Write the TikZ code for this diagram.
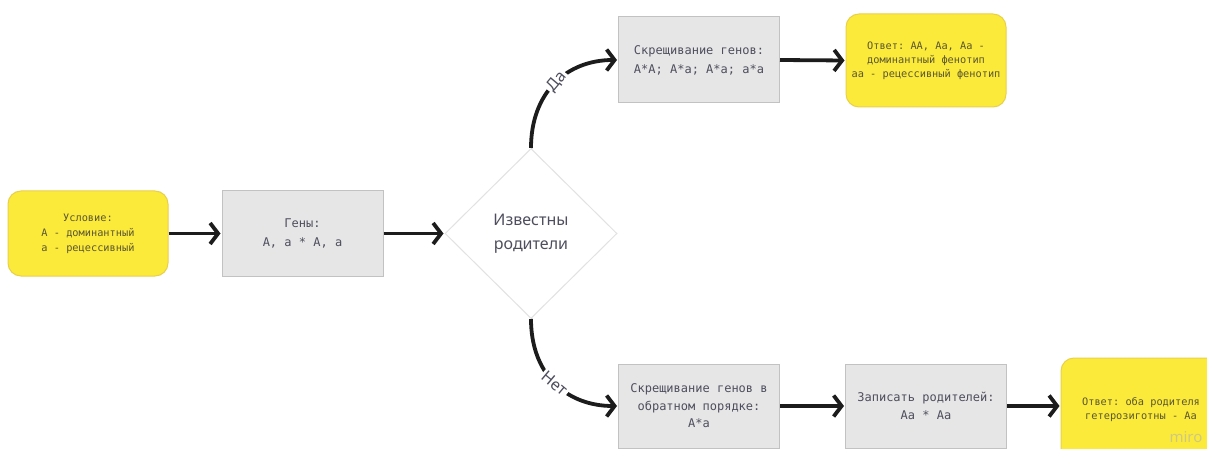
\documentclass[tikz,border=0pt]{standalone}
\usepackage{fontspec}
\setmainfont{Noto Sans}
\setmonofont{DejaVu Sans Mono}
\usetikzlibrary{arrows.meta,shapes.geometric}
\definecolor{yel}{HTML}{FCEA3A}
\definecolor{yelb}{HTML}{E9D04A}
\definecolor{grayf}{HTML}{E6E6E6}
\definecolor{grayb}{HTML}{C2C2C2}
\definecolor{graytxt}{HTML}{4E4E5E}
\definecolor{yeltxt}{HTML}{5A5630}
\definecolor{arrc}{HTML}{1C1C1C}
\definecolor{diab}{HTML}{E2E2E2}
\tikzset{
  yelbox/.style={draw=yelb, fill=yel, line width=1pt, rounded corners=13pt,
    minimum width=160pt, minimum height=85pt, align=center, inner sep=0pt,
    text=yeltxt, font=\ttfamily\fontsize{10.3}{15}\selectfont},
  graybox/.style={draw=grayb, fill=grayf, line width=1pt,
    minimum width=161pt, minimum height=85pt, align=center, inner sep=0pt,
    text=graytxt, font=\ttfamily\fontsize{12}{19}\selectfont},
  decision/.style={diamond, draw=diab, fill=white, line width=1pt, aspect=1,
    minimum width=172pt, minimum height=170pt, inner sep=0pt, align=center,
    text=graytxt, font=\fontsize{16}{24}\selectfont},
  arr/.style={draw=arrc, line width=3.8pt,
    -{Straight Barb[length=8pt,width=21pt]}, shorten >=1pt},
  lbl/.style={fill=white, inner sep=2pt, text=graytxt,
    font=\fontsize{16}{16}\selectfont}
}
\begin{document}
\begin{tikzpicture}[x=1pt,y=-1pt]
\useasboundingbox (0,0) rectangle (1207,449);
\clip (0,0) rectangle (1207,449);
\fill[white] (0,0) rectangle (1207,449);

\node[yelbox] (cond) at (88,233.5) {Условие:\\А - доминантный\\а - рецессивный};
\node[graybox] (genes) at (302.5,233.5) {Гены:\\А, а * А, а};
\node[decision] (dia) at (531,233.5) {Известны\\родители};

\node[graybox, minimum height=86pt] (tg) at (699,60) {Скрещивание генов:\\А*А; А*а; А*а; а*а};
\node[yelbox, minimum height=93pt, font=\ttfamily\fontsize{10.3}{14}\selectfont] (ty) at (926,60.5)
  {Ответ: АА, Аа, Аа -\\доминантный фенотип\\аа - рецессивный фенотип};

\node[graybox, minimum height=84pt, font=\ttfamily\fontsize{12}{17.5}\selectfont] (bg1) at (699,406)
  {Скрещивание генов в\\обратном порядке:\\А*а};
\node[graybox, minimum height=84pt, font=\ttfamily\fontsize{12}{18}\selectfont] (bg2) at (926,406)
  {Записать родителей:\\Аа * Аа};
\node[yelbox, minimum height=104pt, font=\ttfamily\fontsize{10.3}{14}\selectfont] (by) at (1141,410)
  {\raisebox{3pt}{\parbox{160pt}{\centering Ответ: оба родителя\\гетерозиготны - Аа}}};

\node[text=black!30, opacity=0.6, font=\fontsize{15}{15}\selectfont] (miro) at (1186,437) {miro};

\draw[arr] (cond.east) -- (genes.west);
\draw[arr] (genes.east) -- (dia.west);
\draw[arr] (dia.north) .. controls +(0,-55) and +(-52,0) ..
  node[lbl, pos=0.52, rotate=50] {Да} (tg.west);
\draw[arr] (dia.south) .. controls +(0,55) and +(-52,0) ..
  node[lbl, pos=0.5, rotate=-40] {Нет} (bg1.west);
\draw[arr] (tg.east) -- (ty.west);
\draw[arr] (bg1.east) -- (bg2.west);
\draw[arr] (bg2.east) -- (by.west |- bg2.east);
\end{tikzpicture}
\end{document}
